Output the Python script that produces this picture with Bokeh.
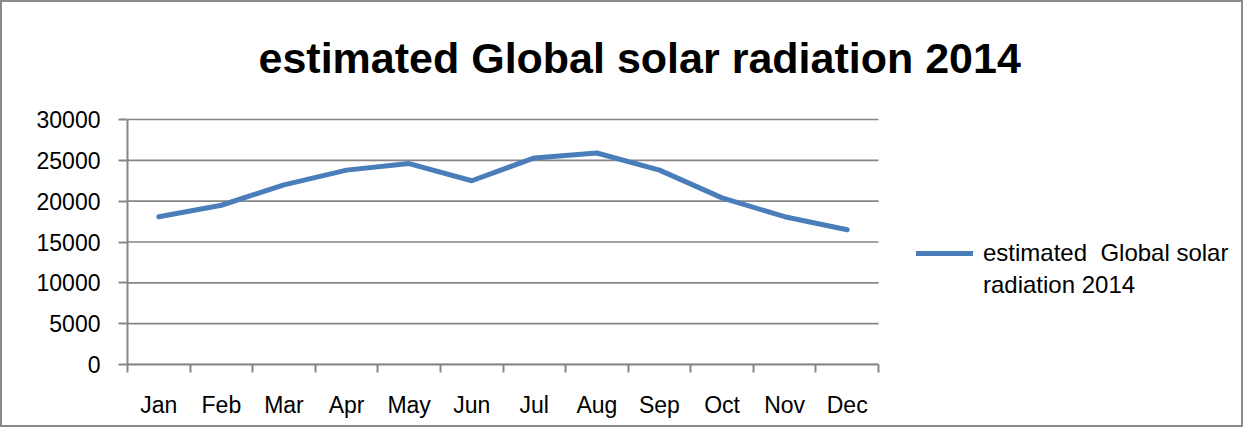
from bokeh.plotting import figure
from bokeh.models import FixedTicker, Legend, LegendItem, Range1d, Label
from bokeh.embed import file_html
from bokeh.resources import INLINE

# ---- data ----
months = ["Jan", "Feb", "Mar", "Apr", "May", "Jun", "Jul", "Aug", "Sep", "Oct", "Nov", "Dec"]
radiation = [18100, 19500, 22000, 23800, 24600, 22500, 25300, 25900, 23800, 20400, 18100, 16500]
y_ticks = [0, 5000, 10000, 15000, 20000, 25000, 30000]
legend_lines = ["estimated  Global solar", "radiation 2014"]
title_text = "estimated  Global solar radiation 2014"

FONT = "Liberation Sans"
GRAY = "#868686"
BLUE = "#4a7ebb"

# ---- layout (pixels) ----
W, H = 1243, 427
LEFT, RIGHT, BOTTOM, TOP = 125, 8, 65, 0
CAT_AREA_W = 751                      # width used by the 12 categories
VAL_AREA_H = 245                      # height used by the value scale 0..max
frame_w = W - LEFT - RIGHT
frame_h = H - BOTTOM - TOP

n = len(months)
x_centres = [i + 0.5 for i in range(n)]
x_bounds = list(range(n + 1))
x_end = n * frame_w / CAT_AREA_W
y_end = y_ticks[-1] * frame_h / VAL_AREA_H

p = figure(width=W, height=H,
           x_range=Range1d(0, x_end), y_range=Range1d(y_ticks[0], y_end),
           output_backend="svg", toolbar_location=None,
           min_border_left=LEFT, min_border_right=RIGHT, min_border_top=TOP,
           min_border_bottom=BOTTOM)
p.styles = {"border": "2px solid #8a8a8a"}

# horizontal grid lines limited to the category area
p.segment(x0=[0] * len(y_ticks), x1=[n] * len(y_ticks), y0=y_ticks, y1=y_ticks,
          line_color=GRAY, line_width=1.6)

r = p.line(x_centres, radiation, line_color=BLUE, line_width=5,
           line_join="round", line_cap="round")

# chart title, placed in screen pixels from the frame's bottom-left corner
title = Label(x=131, y=307, x_units="screen", y_units="screen", text=title_text,
              text_font=FONT, text_font_size="43px", text_font_style="bold",
              text_color="black", text_align="left", text_baseline="alphabetic")
p.add_layout(title)

# axes
p.outline_line_color = None
p.xgrid.visible = False
p.ygrid.visible = False

p.xaxis.bounds = (0, n)
p.xaxis.ticker = FixedTicker(ticks=x_centres, minor_ticks=x_bounds)
p.xaxis.major_label_overrides = {c: m for c, m in zip(x_centres, months)}
p.xaxis.major_tick_out = 0
p.xaxis.major_tick_in = 0
p.xaxis.minor_tick_out = 8
p.xaxis.minor_tick_in = 0
p.xaxis.minor_tick_line_color = GRAY
p.xaxis.minor_tick_line_width = 2
p.xaxis.major_label_standoff = 19

p.yaxis.bounds = (y_ticks[0], y_ticks[-1])
p.yaxis.ticker = FixedTicker(ticks=y_ticks, minor_ticks=[])
p.yaxis.major_tick_out = 9
p.yaxis.major_tick_in = 0
p.yaxis.major_tick_line_color = GRAY
p.yaxis.major_tick_line_width = 2
p.yaxis.major_label_standoff = 18

for ax in (p.xaxis, p.yaxis):
    ax.axis_line_color = GRAY
    ax.axis_line_width = 2
    ax.major_label_text_font = FONT
    ax.major_label_text_font_size = "23px"
    ax.major_label_text_color = "black"

legend = Legend(items=[LegendItem(label=legend_lines[0], renderers=[r]),
                       LegendItem(label=legend_lines[1], renderers=[])],
                location=(789, 64), margin=0, padding=10, spacing=2,
                glyph_width=57, glyph_height=30, label_standoff=10,
                label_height=30,
                label_text_font=FONT, label_text_font_size="24px",
                label_text_color="black", border_line_color=None,
                background_fill_alpha=0)
p.add_layout(legend, "center")

open("out.html", "w").write(file_html(p, INLINE))
